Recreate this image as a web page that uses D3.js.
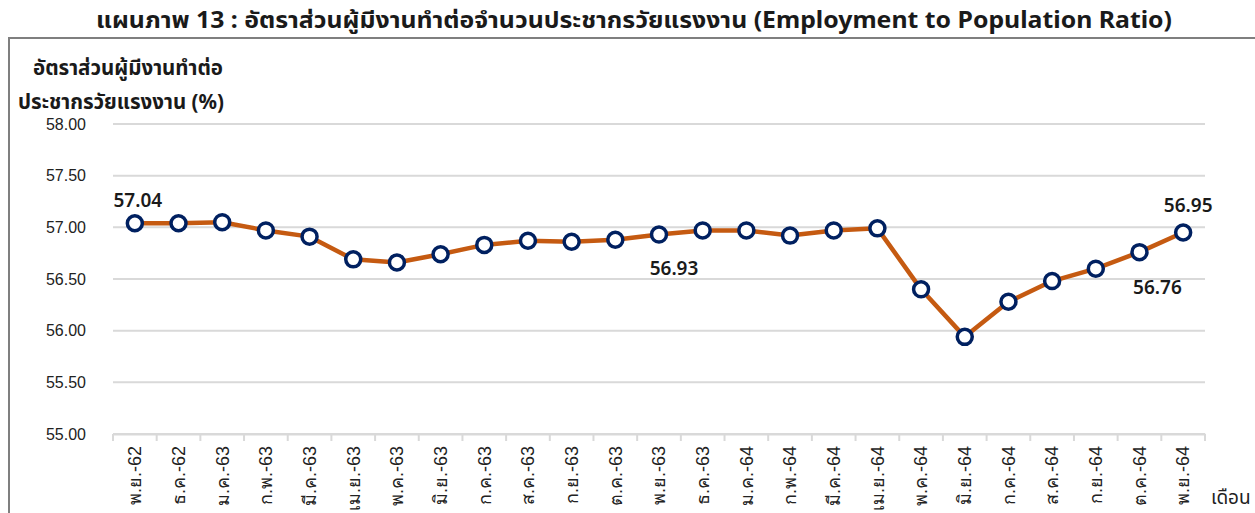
<!DOCTYPE html>
<html>
<head>
<meta charset="utf-8">
<script src="https://cdn.jsdelivr.net/npm/d3@7"></script>
<style>
  html, body { margin: 0; padding: 0; background: #fff; }
  svg { display: block; font-family: "Noto Sans", "Noto Sans Thai", Tahoma, sans-serif; }
</style>
</head>
<body>
<svg id="chart" width="1255" height="513"></svg>
<script>
const categories = ["พ.ย.-62","ธ.ค.-62","ม.ค.-63","ก.พ.-63","มี.ค.-63","เม.ย.-63","พ.ค.-63","มิ.ย.-63","ก.ค.-63","ส.ค.-63","ก.ย.-63","ต.ค.-63","พ.ย.-63","ธ.ค.-63","ม.ค.-64","ก.พ.-64","มี.ค.-64","เม.ย.-64","พ.ค.-64","มิ.ย.-64","ก.ค.-64","ส.ค.-64","ก.ย.-64","ต.ค.-64","พ.ย.-64"];
const values = [57.04,57.04,57.05,56.97,56.91,56.69,56.66,56.74,56.83,56.87,56.86,56.88,56.93,56.97,56.97,56.92,56.97,56.99,56.40,55.94,56.28,56.48,56.60,56.76,56.95];
const yTicks = [55.00,55.50,56.00,56.50,57.00,57.50,58.00];
const labelled = [0, 12, 23, 24];
const titleText = "แผนภาพ 13 : อัตราส่วนผู้มีงานทำต่อจำนวนประชากรวัยแรงงาน (Employment to Population Ratio)";
const yTitle = ["อัตราส่วนผู้มีงานทำต่อ", "ประชากรวัยแรงงาน (%)"];
const xTitle = "เดือน";

const svg = d3.select("#chart");
const pLeft = 113, pRight = 1205, pTop = 124, pBottom = 434;

const x = d3.scaleBand().domain(categories).range([pLeft, pRight]);
const y = d3.scaleLinear().domain([55, 58]).range([pBottom, pTop]);
const cx = d => x(d) + x.bandwidth() / 2;

// frame
svg.append("path")
  .attr("d", `M9,513 L9,38 L1255,38`)
  .attr("fill", "none").attr("stroke", "#7f7f7f").attr("stroke-width", 2);

// title
svg.append("text").attr("x", 634).attr("y", 28).attr("text-anchor", "middle")
  .attr("font-size", 20).attr("font-weight", "bold").attr("fill", "#1a1a1a")
  .attr("textLength", 1076).attr("lengthAdjust", "spacingAndGlyphs")
  .style("font-size", "23px").text(titleText);

// y title
svg.append("text").attr("x", 33).attr("y", 75).attr("font-size", 20.5).attr("font-weight", "bold").attr("fill", "#1a1a1a").text(yTitle[0]);
svg.append("text").attr("x", 18).attr("y", 109).attr("font-size", 20.5).attr("font-weight", "bold").attr("fill", "#1a1a1a").text(yTitle[1]);

// grid
svg.append("g").selectAll("line").data(yTicks).join("line")
  .attr("x1", pLeft).attr("x2", pRight)
  .attr("y1", d => y(d)).attr("y2", d => y(d))
  .attr("stroke", "#d9d9d9").attr("stroke-width", 2);

// y axis labels
const yAxis = d3.axisLeft(y).tickValues(yTicks).tickFormat(d3.format(".2f")).tickSize(0).tickPadding(0);
const yg = svg.append("g").attr("transform", `translate(86,0)`).call(yAxis);
yg.select(".domain").remove();
yg.selectAll("text").attr("font-size", 16).attr("fill", "#222").attr("font-family", "inherit");

// x axis
const xAxis = d3.axisBottom(x).tickSize(0).tickPadding(0);
const xg = svg.append("g").attr("transform", `translate(0,${pBottom})`).call(xAxis);
xg.select(".domain").attr("stroke", "#d9d9d9").attr("stroke-width", 2);
xg.selectAll(".tick line").remove();
xg.selectAll(".tick text")
  .attr("font-size", 18).attr("fill", "#222").attr("font-family", "inherit")
  .attr("text-anchor", "end").attr("dy", "0.35em")
  .attr("transform", "translate(0,12) rotate(-90)");
// boundary ticks
const bounds = categories.map(c => x(c)).concat([pRight]);
svg.append("g").selectAll("line").data(bounds).join("line")
  .attr("x1", d => d).attr("x2", d => d).attr("y1", pBottom).attr("y2", pBottom + 7)
  .attr("stroke", "#d9d9d9").attr("stroke-width", 2);

svg.append("text").attr("x", 1211).attr("y", 504).attr("font-size", 19).attr("fill", "#222").text(xTitle);

// line
const line = d3.line().x((d, i) => cx(categories[i])).y(d => y(d));
svg.append("path").datum(values).attr("d", line)
  .attr("fill", "none").attr("stroke", "#c55a11").attr("stroke-width", 4.5).attr("stroke-linejoin", "round");

svg.append("g").selectAll("circle").data(values).join("circle")
  .attr("cx", (d, i) => cx(categories[i])).attr("cy", d => y(d)).attr("r", 7.5)
  .attr("fill", "#fff").attr("stroke", "#002060").attr("stroke-width", 3.5);

// data labels
const labelOffsets = {0: [3, -16], 12: [15, 40], 23: [18, 42], 24: [5, -21]};
svg.append("g").selectAll("text").data(labelled).join("text")
  .attr("x", i => cx(categories[i]) + labelOffsets[i][0])
  .attr("y", i => y(values[i]) + labelOffsets[i][1])
  .attr("text-anchor", "middle").attr("font-size", 19).attr("font-weight", 600).attr("fill", "#1a1a1a")
  .text(i => values[i].toFixed(2));
</script>
</body>
</html>
